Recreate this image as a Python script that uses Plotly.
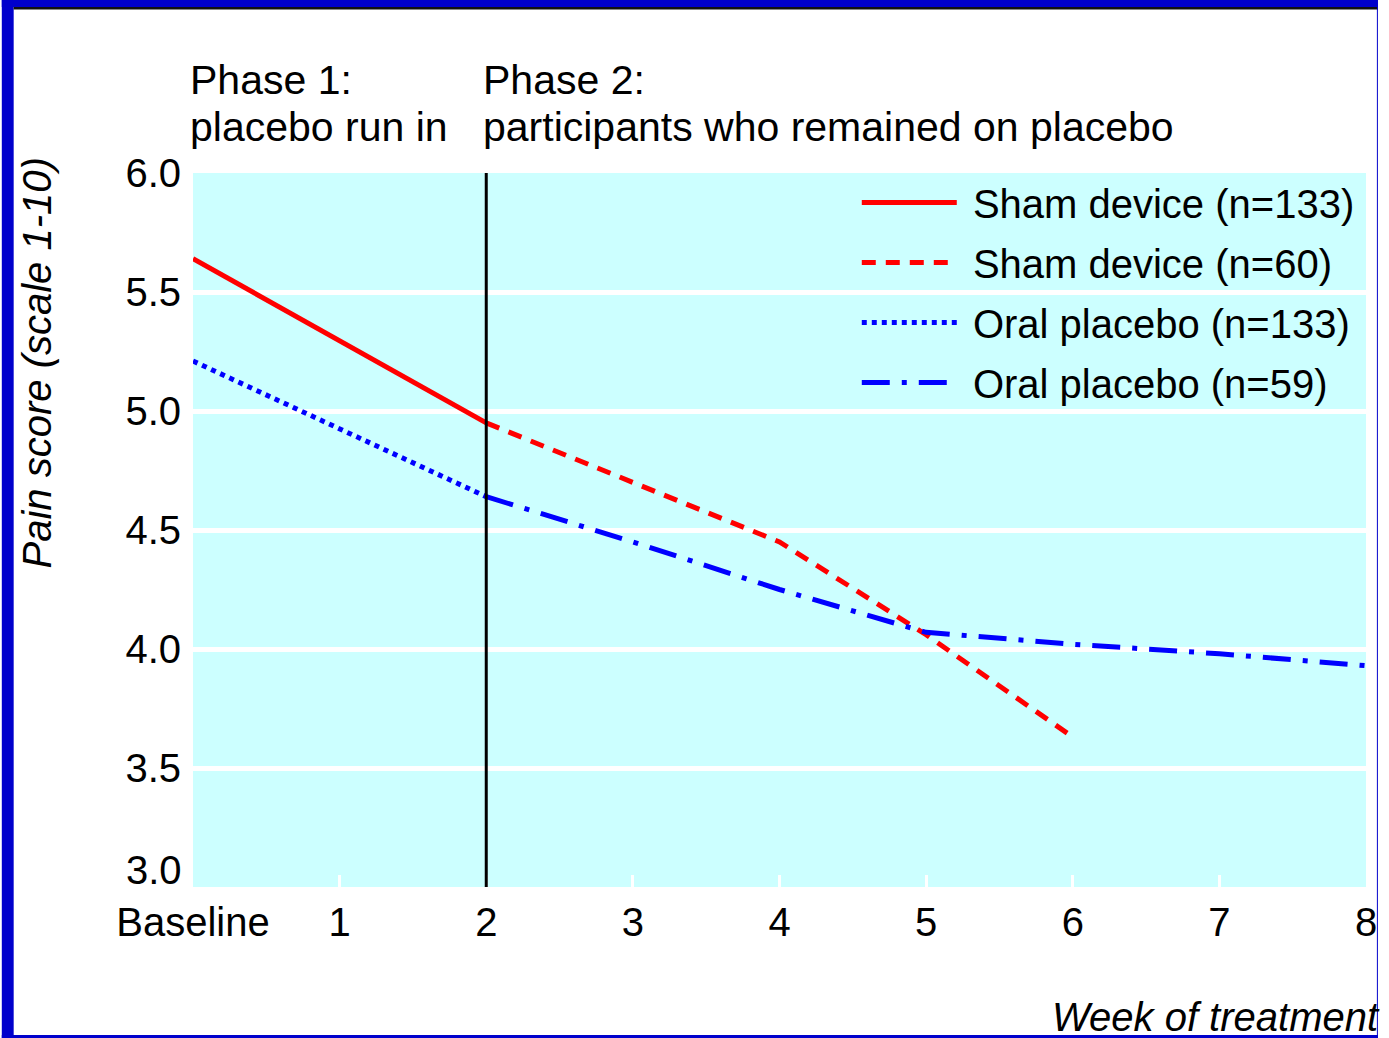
import plotly.graph_objects as go

# ---- data ----
weeks_phase1 = [0, 2]
sham_133 = [5.64, 4.95]
oral_133 = [5.21, 4.64]

weeks_sham_60 = [2, 3, 4, 5, 6]
sham_60 = [4.95, 4.70, 4.45, 4.06, 3.63]

weeks_oral_59 = [2, 3, 4, 5, 6, 7, 8]
oral_59 = [4.64, 4.45, 4.25, 4.07, 4.02, 3.98, 3.93]

x_tickvals = [0, 1, 2, 3, 4, 5, 6, 7, 8]
x_ticktext = ["Baseline", "1", "2", "3", "4", "5", "6", "7", "8"]
y_tickvals = [3.5, 4.0, 4.5, 5.0, 5.5, 6.0]
y_ticktext = ["3.5", "4.0", "4.5", "5.0", "5.5", "6.0"]
y_bottom_label = "3.0"

series_names = ["Sham device (n=133)", "Sham device (n=60)",
                "Oral placebo (n=133)", "Oral placebo (n=59)"]

phase_split_week = 2

# ---- layout geometry ----
W, H = 1389, 1038
L, R_EDGE, T, B_EDGE = 193, 1377, 173, 887
PW, PH = R_EDGE - L, B_EDGE - T

def px2x(p):
    return (p - L) / PW

def py2y(p):
    return (B_EDGE - p) / PH

FONT = "Liberation Sans, Arial, Helvetica, sans-serif"
RED = "#FF0000"
BLUE = "#0000FF"
FRAME = "#0000CC"
NB = "\u00a0"

fig = go.Figure()
fig.add_trace(go.Scatter(x=weeks_phase1, y=sham_133, mode="lines", name=NB + series_names[0],
                         legendgroup="a", line=dict(color=RED, width=5)))
fig.add_trace(go.Scatter(x=weeks_sham_60, y=sham_60, mode="lines", name=NB + series_names[1],
                         legendgroup="b", line=dict(color=RED, width=5, dash="14px,10px")))
fig.add_trace(go.Scatter(x=weeks_phase1, y=oral_133, mode="lines", name=NB + series_names[2],
                         legendgroup="c", line=dict(color=BLUE, width=5, dash="5px,5px")))
fig.add_trace(go.Scatter(x=weeks_oral_59, y=oral_59, mode="lines", name=NB + series_names[3],
                         legendgroup="d", line=dict(color=BLUE, width=5, dash="28px,12px,5px,12px")))

shapes = [
    # vertical phase separator
    dict(type="line", xref="x", yref="y", x0=phase_split_week, x1=phase_split_week,
         y0=3.0, y1=6.0, line=dict(color="black", width=3), layer="above"),
    # blue frame
    dict(type="rect", xref="paper", yref="paper", x0=px2x(0), x1=px2x(12), y0=py2y(H), y1=py2y(0),
         fillcolor=FRAME, line=dict(width=0)),
    dict(type="rect", xref="paper", yref="paper", x0=px2x(0), x1=px2x(W), y0=py2y(7), y1=py2y(0),
         fillcolor=FRAME, line=dict(width=0)),
    dict(type="rect", xref="paper", yref="paper", x0=px2x(12), x1=px2x(W), y0=py2y(9.5), y1=py2y(7),
         fillcolor="#111111", line=dict(width=0)),
    dict(type="rect", xref="paper", yref="paper", x0=px2x(0), x1=px2x(W), y0=py2y(H), y1=py2y(1035),
         fillcolor=FRAME, line=dict(width=0)),
    dict(type="rect", xref="paper", yref="paper", x0=px2x(1388), x1=px2x(W), y0=py2y(H), y1=py2y(0),
         fillcolor=FRAME, line=dict(width=0)),
]

txt = dict(size=40, family=FONT, color="black")
txt_phase = dict(size=41, family=FONT, color="black")
annotations = [
    dict(text="Phase 1:", x=0, xref="x", xanchor="left", xshift=-4, y=py2y(80), yref="paper",
         yanchor="middle", showarrow=False, font=txt_phase, borderpad=0),
    dict(text="placebo run in", x=0, xref="x", xanchor="left", xshift=-4, y=py2y(127), yref="paper",
         yanchor="middle", showarrow=False, font=txt_phase, borderpad=0),
    dict(text="Phase 2:", x=phase_split_week, xref="x", xanchor="left", xshift=-4, y=py2y(80),
         yref="paper", yanchor="middle", showarrow=False, font=txt_phase, borderpad=0),
    dict(text="participants who remained on placebo", x=phase_split_week, xref="x", xanchor="left",
         xshift=-4, y=py2y(127), yref="paper", yanchor="middle", showarrow=False, font=txt_phase,
         borderpad=0),
    dict(text=y_bottom_label, x=px2x(184), xref="paper", xanchor="right", y=py2y(870), yref="paper",
         yanchor="middle", showarrow=False, font=txt),
    dict(text="<i>Pain score (scale 1-10)</i>", x=px2x(36), xref="paper", xanchor="center",
         y=py2y(363), yref="paper", yanchor="middle", textangle=-90, showarrow=False, font=txt),
    dict(text="<i>Week of treatment</i>", x=px2x(1393), xref="paper", xanchor="right",
         y=py2y(1017), yref="paper", yanchor="middle", showarrow=False, font=txt),
]

fig.update_layout(
    width=W, height=H, autosize=False,
    margin=dict(l=L, r=W - R_EDGE, t=T, b=H - B_EDGE, pad=0),
    paper_bgcolor="white",
    plot_bgcolor="#CCFFFF",
    font=dict(family=FONT, size=40, color="black"),
    showlegend=True,
    legend=dict(x=px2x(863), y=py2y(170), xanchor="left", yanchor="top",
                bgcolor="rgba(0,0,0,0)", font=txt,
                itemwidth=95, tracegroupgap=5, traceorder="grouped"),
    shapes=shapes,
    annotations=annotations,
    xaxis=dict(range=[0, 8], tickvals=x_tickvals, ticktext=x_ticktext, showgrid=False,
               zeroline=False, showline=False, ticks="inside", ticklen=12, tickwidth=3,
               tickcolor="white", tickfont=txt, ticklabelstandoff=8),
    yaxis=dict(range=[3, 6], tickvals=y_tickvals, ticktext=y_ticktext, showgrid=True,
               gridcolor="white", gridwidth=5, zeroline=False, showline=False, ticks="",
               tickfont=txt, ticklabelstandoff=11),
)

fig.write_html(
    "out.html",
    config={"displayModeBar": False, "responsive": False},
    post_script=("document.body.style.margin='0px';"
                 "document.body.style.overflow='hidden';"
                 "document.documentElement.style.overflow='hidden';"),
)
